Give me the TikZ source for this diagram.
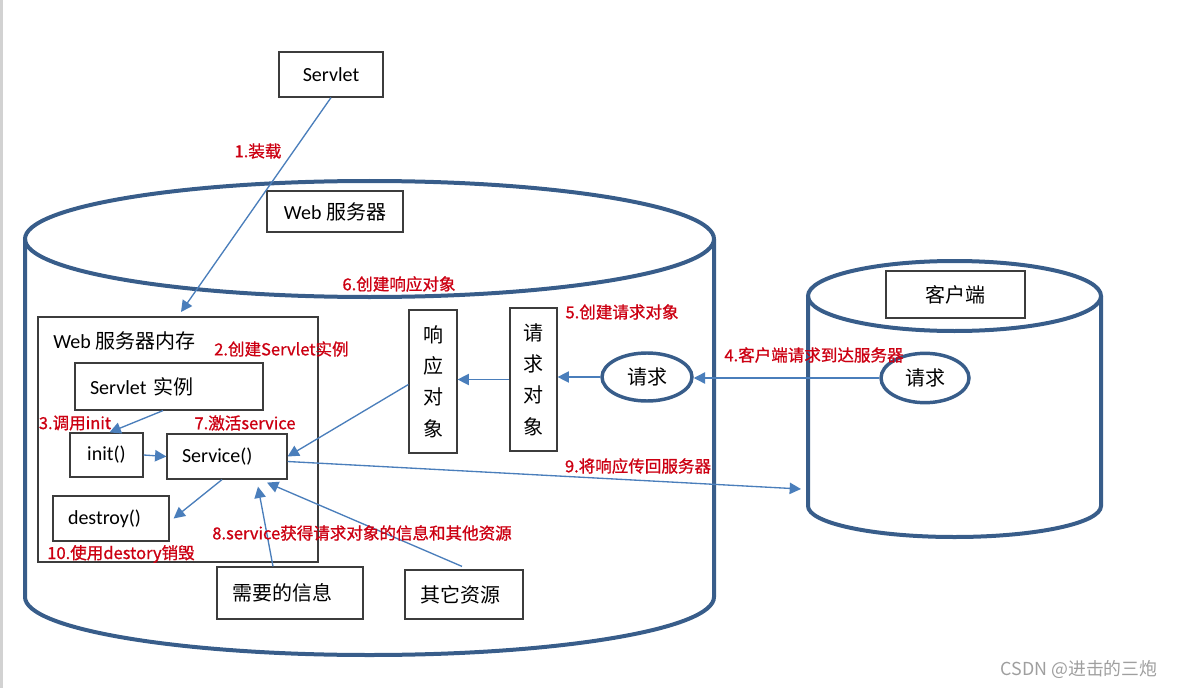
\documentclass[tikz,border=0pt]{standalone}
\usepackage{fontspec}
\setmainfont{Carlito}
\newfontfamily\cjk{Noto Sans CJK SC}
\newfontfamily\cjkb[FakeBold=0.9]{Noto Sans CJK SC}
\usetikzlibrary{arrows.meta,shapes.geometric,calc}
\definecolor{cylc}{RGB}{56,93,138}
\definecolor{arrc}{RGB}{74,126,187}
\definecolor{redc}{RGB}{204,0,18}
\definecolor{boxc}{RGB}{60,60,60}
\newcommand{\blk}{\fontsize{15}{18}\selectfont}
\begin{document}
\begin{tikzpicture}[x=0.75pt,y=-0.75pt,
  box/.style={draw=boxc, line width=0.9pt, fill=white, inner sep=0pt, font=\blk},
  lbox/.style={box, align=left, inner xsep=11.25pt},
  lbl/.style={text=redc, inner sep=0pt, font=\cjkb\fontsize{12.4}{14}\selectfont},
  arr/.style={draw=arrc, line width=1pt, -{Triangle[length=8.5pt,width=8.5pt]}},
  cyl/.style={draw=cylc, line width=3pt},
  reqe/.style={ellipse, draw=cylc, line width=2.6pt, fill=white, minimum width=67.5pt, minimum height=36pt, inner sep=0pt, font=\cjk\fontsize{15}{18}\selectfont}]
\useasboundingbox (0,0) rectangle (1181,688);
\draw[gray!35, line width=1.5pt] (1.5,0) -- (1.5,688);

% Web server cylinder
\draw[cyl] (25,239) -- (25,597) .. controls (25,629) and (179.2,655) .. (369.5,655) .. controls (559.8,655) and (714,629) .. (714,597) -- (714,239);
\draw[cyl] (369.5,239) ellipse [x radius=344.5, y radius=58];

% Client cylinder
\draw[cyl] (808,296) -- (808,506) .. controls (808,523.1) and (873.6,537) .. (954.5,537) .. controls (1035.4,537) and (1101,523.1) .. (1101,506) -- (1101,296);
\draw[cyl] (954.5,296) ellipse [x radius=146.5, y radius=35];

% Boxes
\node[box, minimum width=78pt, minimum height=33.75pt] (servlet) at (331,74.5) {Servlet};
\node[box, minimum width=102pt, minimum height=30.75pt] (web) at (335,211.5) {Web {\cjk 服务器}};
\node[box, minimum width=210pt, minimum height=183.75pt] (mem) at (178,439.5) {};
\node[anchor=west, inner sep=0pt, font=\blk] (memlbl) at (53,341) {Web {\cjk 服务器内存}};
\node[lbox, text width=118.5pt, minimum height=35.25pt] (inst) at (169,386.5) {Servlet {\cjk 实例}};
\node[box, minimum width=54.75pt, minimum height=33pt] (init) at (106.5,455) {init()};
\node[lbox, text width=67.5pt, minimum height=33.75pt] (svc) at (227,456.5) {Service()};
\node[lbox, text width=64.5pt, minimum height=33.75pt] (destroy) at (111,518.5) {destroy()};
\node[box, minimum width=36pt, minimum height=107.25pt, align=center, font=\cjk\fontsize{15}{23.6}\selectfont] (resp) at (433,381.5) {响\\应\\对\\象};
\node[box, minimum width=35.25pt, minimum height=107.25pt, align=center, font=\cjk\fontsize{15}{23.6}\selectfont] (reqobj) at (533.5,379.5) {请\\求\\对\\象};
\node[lbox, text width=87pt, minimum height=39pt, font=\cjk\fontsize{15}{18}\selectfont] (info) at (290,593) {需要的信息};
\node[lbox, text width=66pt, minimum height=36.75pt, font=\cjk\fontsize{15}{18}\selectfont] (other) at (464,594.5) {其它资源};
\node[box, minimum width=104.25pt, minimum height=35.25pt, font=\cjk\fontsize{15}{18}\selectfont] (client) at (955.5,294.5) {客户端};
\node[reqe] (req) at (647,377) {请求};
\node[reqe, minimum width=66pt, minimum height=37pt] (creq) at (925,378) {请求};

% Free ends
\coordinate (memin) at (181,312);
\coordinate (cltgt) at (801,489);

% Connectors
\draw[arr] (servlet.south) -- (memin);
\draw[arr] ($(inst.south)+(-6,0)$) -- ($(init.north)+(3,0)$);
\draw[arr] (init.east) -- (svc.west);
\draw[arr] ($(svc.south)+(-5,0)$) -- ($(destroy.east)+(4,0)$);
\draw[arr] ($(resp.west)+(0,3)$) -- (svc.east);
\draw[arr] ($(svc.east)+(0,5)$) -- (cltgt);
\draw[arr] (reqobj.west) -- (reqobj.west -| resp.east);
\draw[arr] (req.west) -- (req.west -| reqobj.east);
\draw[arr] (creq.west) -- (creq.west -| req.east);
\draw[arr] ($(info.north)+(-17,0)$) -- ($(svc.south)+(31,7)$);
\draw[arr] ($(other.north)+(-2,-3)$) -- ($(svc.south)+(40,3)$);

% Red labels
\node[lbl] (l1) at (258,151) {1.装载};
\node[lbl, anchor=west] (l2) at (214,349) {2.创建Servlet实例};
\node[lbl] (l3) at (75,423) {3.调用init};
\node[lbl] (l7) at (245,423) {7.激活service};
\node[lbl] (l10) at (121,554) {10.使用destory销毁};
\node[lbl] (l6) at (399,284) {6.创建响应对象};
\node[lbl] (l5) at (622,312) {5.创建请求对象};
\node[lbl] (l4) at (814,355) {4.客户端请求到达服务器};
\node[lbl] (l9) at (638,466) {9.将响应传回服务器};
\node[lbl] (l8) at (362,533) {8.service获得请求对象的信息和其他资源};

% Watermark
\node[inner sep=0pt, text=gray!75, font=\cjk\fontsize{13.4}{15}\selectfont] (wm) at (1079,669) {CSDN @进击的三炮};
\end{tikzpicture}
\end{document}
